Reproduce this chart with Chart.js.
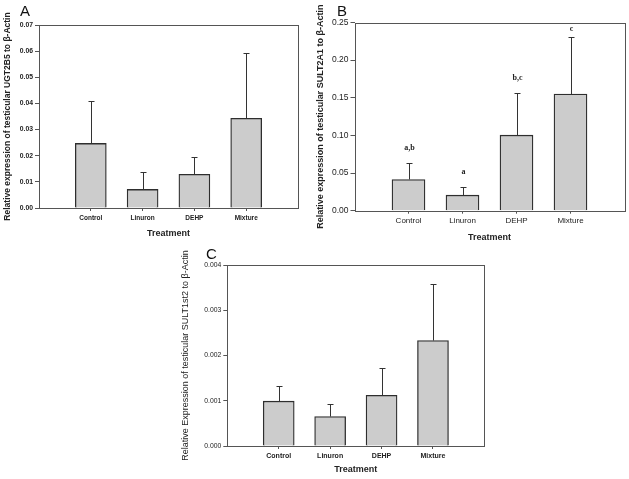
<!DOCTYPE html>
<html>
<head>
<meta charset="utf-8">
<script src="https://cdn.jsdelivr.net/npm/chart.js@4.4.1/dist/chart.umd.min.js"></script>
<style>
  html, body { margin: 0; padding: 0; background: #fff; }
  body { position: relative; width: 629px; height: 479px; overflow: hidden; }
  canvas { position: absolute; }
</style>
</head>
<body>
<canvas id="chartA" width="312" height="245" style="left:0;top:0"></canvas>
<canvas id="chartB" width="317" height="245" style="left:312px;top:0"></canvas>
<canvas id="chartC" width="330" height="239" style="left:170px;top:240px"></canvas>
<script>
// Data
const categories = ["Control", "Linuron", "DEHP", "Mixture"];

// A: UGT2B5
const ugt2b5Means = [0.0247, 0.0071, 0.0129, 0.0343];
const ugt2b5Errors = [0.0164, 0.0068, 0.0067, 0.0249];
const ugt2b5Ticks = [0, 0.01, 0.02, 0.03, 0.04, 0.05, 0.06, 0.07];

// B: SULT2A1
const sult2a1Means = [0.0415, 0.0206, 0.1003, 0.1549];
const sult2a1Errors = [0.0214, 0.0104, 0.0557, 0.0764];
const sult2a1Letters = ["a,b", "a", "b,c", "c"];
const sult2a1Ticks = [0, 0.05, 0.1, 0.15, 0.2, 0.25];

// C: SULT1st2
const sult1st2Means = [0.00099, 0.00065, 0.00112, 0.00233];
const sult1st2Errors = [0.00033, 0.00028, 0.00061, 0.00125];
const sult1st2Ticks = [0, 0.001, 0.002, 0.003, 0.004];

const FONT = "'Liberation Sans', Arial, sans-serif";
const AXIS_COLOR = "#555";
const TEXT_COLOR = "#222";

// Upper error whiskers + significance letters
const errorBarPlugin = {
  id: "errorBars",
  afterDatasetsDraw(chart) {
    const ds = chart.data.datasets[0];
    const meta = chart.getDatasetMeta(0);
    const yScale = chart.scales.y;
    const ctx = chart.ctx;
    ctx.save();
    ctx.strokeStyle = "#333";
    ctx.lineWidth = 1;
    meta.data.forEach((bar, i) => {
      const mean = ds.data[i];
      const err = ds.errors[i];
      if (mean == null || err == null) return;
      const x = Math.round(bar.x) + 0.5;
      const y0 = yScale.getPixelForValue(mean);
      const y1 = Math.round(yScale.getPixelForValue(mean + err)) + 0.5;
      ctx.beginPath();
      ctx.moveTo(x, y0);
      ctx.lineTo(x, y1);
      ctx.moveTo(x - 3, y1);
      ctx.lineTo(x + 3, y1);
      ctx.stroke();
      if (ds.letters && ds.letters[i]) {
        ctx.fillStyle = TEXT_COLOR;
        ctx.font = "bold 8px 'Liberation Serif', 'Times New Roman', serif";
        ctx.textAlign = "center";
        ctx.textBaseline = "middle";
        const ly = Math.max(y1 - 16, chart.chartArea.top + 6);
        ctx.fillText(ds.letters[i], x, ly);
      }
    });
    ctx.restore();
  },
};

// Box round the plot area and the panel letter
const framePlugin = {
  id: "frame",
  afterDraw(chart, args, opts) {
    const { ctx, chartArea } = chart;
    ctx.save();
    ctx.strokeStyle = AXIS_COLOR;
    ctx.lineWidth = 1;
    ctx.strokeRect(
      Math.round(chartArea.left) + 0.5,
      Math.round(chartArea.top) + 0.5,
      Math.round(chartArea.right - chartArea.left),
      Math.round(chartArea.bottom - chartArea.top)
    );
    if (opts.text) {
      ctx.fillStyle = "#111";
      ctx.font = "15px " + FONT;
      ctx.textAlign = "left";
      ctx.textBaseline = "alphabetic";
      ctx.fillText(opts.text, opts.x, opts.y);
    }
    ctx.restore();
  },
};

function makePanel(id, p) {
  const labels = ["", ...categories, ""];
  new Chart(document.getElementById(id), {
    type: "bar",
    data: {
      labels: labels,
      datasets: [
        {
          data: [null, ...p.means, null],
          errors: [null, ...p.errors, null],
          letters: p.letters ? ["", ...p.letters, ""] : null,
          backgroundColor: "#cccccc",
          borderColor: "#2e2e2e",
          borderWidth: 1.3,
          barThickness: p.barWidth,
        },
      ],
    },
    options: {
      responsive: false,
      animation: false,
      layout: { padding: p.padding },
      plugins: {
        legend: { display: false },
        tooltip: { enabled: false },
        frame: p.panel,
      },
      scales: {
        x: {
          offset: false,
          border: { display: false },
          grid: {
            offset: false,
            drawOnChartArea: false,
            tickLength: 3,
            color: (c) =>
              c.index === 0 || c.index === labels.length - 1
                ? "rgba(0,0,0,0)"
                : AXIS_COLOR,
          },
          ticks: {
            autoSkip: false,
            maxRotation: 0,
            padding: p.xTickPad,
            color: TEXT_COLOR,
            font: p.xTickFont,
          },
          title: {
            display: true,
            text: "Treatment",
            color: TEXT_COLOR,
            font: { family: FONT, size: 9, weight: "bold" },
            padding: { top: 0, bottom: p.xTitlePad },
          },
          afterFit(scale) {
            scale.height = p.xHeight;
          },
        },
        y: {
          min: p.ticks[0],
          max: p.ticks[p.ticks.length - 1],
          border: { display: false },
          grid: { drawOnChartArea: false, tickLength: 4, color: AXIS_COLOR },
          afterBuildTicks(scale) {
            scale.ticks = p.ticks.map((v) => ({ value: v }));
          },
          ticks: {
            padding: 2,
            color: TEXT_COLOR,
            font: p.yTickFont,
            callback: (v) => Number(v).toFixed(p.decimals),
          },
          title: {
            display: true,
            text: p.yTitle,
            color: TEXT_COLOR,
            font: p.yTitleFont,
            padding: { top: p.yTitlePad, bottom: 0 },
          },
          afterFit(scale) {
            scale.width = p.yWidth;
          },
        },
      },
    },
    plugins: [errorBarPlugin, framePlugin],
  });
}

document.addEventListener("DOMContentLoaded", function () {
  // Panel A
  makePanel("chartA", {
    means: ugt2b5Means,
    errors: ugt2b5Errors,
    ticks: ugt2b5Ticks,
    decimals: 2,
    barWidth: 31,
    padding: { top: 25, right: 14, bottom: 5, left: 0 },
    yWidth: 39,
    xHeight: 32,
    xTickPad: 3,
    xTitlePad: 0.6,
    yTitlePad: 3,
    xTickFont: { family: FONT, size: 6.5, weight: "bold" },
    yTickFont: { family: FONT, size: 6.8, weight: "bold" },
    yTitle: "Relative expression of testicular UGT2B5 to \u03b2-Actin",
    yTitleFont: { family: FONT, size: 8.5, weight: "bold" },
    panel: { text: "A", x: 20, y: 16 },
  });

  // Panel B
  makePanel("chartB", {
    means: sult2a1Means,
    errors: sult2a1Errors,
    letters: sult2a1Letters,
    ticks: sult2a1Ticks,
    decimals: 2,
    barWidth: 33,
    padding: { top: 22.5, right: 4.5, bottom: 2.3, left: 0 },
    yWidth: 42.5,
    xHeight: 32,
    xTickPad: 2.5,
    xTitlePad: 0,
    yTitlePad: 3,
    xTickFont: { family: FONT, size: 8 },
    yTickFont: { family: FONT, size: 8.5 },
    yTitle: "Relative expression of testicular SULT2A1 to \u03b2-Actin",
    yTitleFont: { family: FONT, size: 9, weight: "bold" },
    panel: { text: "B", x: 25, y: 16 },
  });

  // Panel C
  makePanel("chartC", {
    means: sult1st2Means,
    errors: sult1st2Errors,
    ticks: sult1st2Ticks,
    decimals: 3,
    barWidth: 31,
    padding: { top: 25, right: 15.6, bottom: 3.6, left: 0 },
    yWidth: 57.3,
    xHeight: 29.4,
    xTickPad: 2.8,
    xTitlePad: 0,
    yTitlePad: 10,
    xTickFont: { family: FONT, size: 7, weight: "bold" },
    yTickFont: { family: FONT, size: 6.8 },
    yTitle: "Relative Expression of testicular SULT1st2 to \u03b2-Actin",
    yTitleFont: { family: FONT, size: 9 },
    panel: { text: "C", x: 36, y: 19 },
  });
});
</script>
</body>
</html>
